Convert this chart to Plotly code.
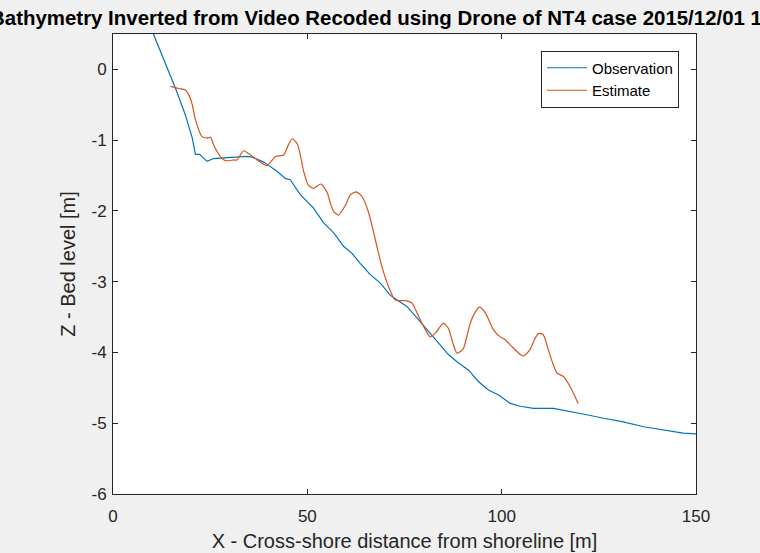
import plotly.graph_objects as go

# Observation (blue) - cross-shore distance [m] and bed level [m]
obs_x = [9.5, 10.4, 14.8, 16.1, 18.6, 20.4, 21.2, 22.3, 24.2, 25.9, 28.5, 34.5, 35.8, 38.8, 40.1,
         42.2, 44.3, 45.6, 48.2, 51.6, 54.2, 56.8, 59.3, 61.5, 63.6, 66.2, 68.8, 71.3, 73.1,
         75.6, 78.2, 82.5, 86.3, 88.5, 91.5, 94.0, 96.6, 99.2, 102.2, 104.8, 108.2, 113.3,
         117.6, 121.9, 126.2, 131.3, 136.5, 141.6, 146.7, 150.0]
obs_z = [0.62, 0.50, -0.08, -0.27, -0.64, -0.97, -1.20, -1.20, -1.30, -1.26, -1.25, -1.23, -1.24,
         -1.31, -1.36, -1.44, -1.54, -1.56, -1.77, -1.96, -2.17, -2.31, -2.50, -2.60, -2.74,
         -2.90, -3.02, -3.19, -3.26, -3.35, -3.51, -3.78, -4.03, -4.13, -4.25, -4.41, -4.53,
         -4.60, -4.72, -4.76, -4.79, -4.79, -4.83, -4.88, -4.93, -4.98, -5.05, -5.10, -5.14,
         -5.15]

# Estimate (orange)
est_x = [14.8, 16.9, 18.6, 19.5, 20.4, 21.2, 22.9, 24.2, 25.1, 25.9, 27.6, 28.9, 31.1, 31.9,
         33.6, 34.9, 37.1, 39.6, 41.8, 43.9, 45.1, 46.1, 47.4, 48.2, 49.0, 50.3, 51.6, 53.5,
         55.1, 55.9, 56.8, 58.0, 59.8, 61.1, 62.6, 64.1, 65.8, 67.9, 69.2, 70.9, 72.6, 75.6,
         76.9, 78.2, 79.9, 81.6, 82.9, 85.0, 86.3, 87.4, 88.5, 89.3, 90.2, 91.9, 93.2, 94.3,
         95.8, 97.9, 99.6, 100.9, 102.7, 104.8, 105.6, 107.3, 108.4, 109.5, 110.7, 112.0,
         113.0, 114.2, 115.9, 117.6, 119.7]
est_z = [-0.24, -0.27, -0.29, -0.36, -0.50, -0.71, -0.95, -0.97, -0.96, -1.07, -1.23, -1.29,
         -1.28, -1.28, -1.15, -1.19, -1.28, -1.36, -1.23, -1.21, -1.07, -0.98, -1.05, -1.21,
         -1.43, -1.64, -1.68, -1.62, -1.74, -1.89, -2.01, -2.06, -1.92, -1.77, -1.73, -1.80,
         -2.03, -2.50, -2.79, -3.07, -3.26, -3.27, -3.30, -3.44, -3.63, -3.78, -3.73, -3.59,
         -3.66, -3.86, -4.01, -3.99, -3.94, -3.59, -3.43, -3.36, -3.44, -3.68, -3.78, -3.82,
         -3.92, -4.03, -4.05, -3.96, -3.82, -3.73, -3.75, -3.96, -4.13, -4.29, -4.34, -4.48,
         -4.72]

x_ticks = [0, 50, 100, 150]
x_tick_labels = ["0", "50", "100", "150"]
y_ticks = [-6, -5, -4, -3, -2, -1, 0]
y_tick_labels = ["-6", "-5", "-4", "-3", "-2", "-1", "0"]

title_text = "Bathymetry Inverted from Video Recoded using Drone of NT4 case 2015/12/01 10:00"

FONT = "Liberation Sans, Arial, sans-serif"
AX = "#262626"

fig = go.Figure()
fig.add_trace(go.Scatter(x=obs_x, y=obs_z, mode="lines", name="Observation",
                         line=dict(color="#0072BD", width=1.2)))
fig.add_trace(go.Scatter(x=est_x, y=est_z, mode="lines", name="Estimate",
                         line=dict(color="#D95319", width=1.2, shape="spline", smoothing=0.6)))

W, H = 760, 553
L, R, T, B = 112.5, 64, 34, 59
pw = W - L - R
ph = H - T - B

axis_common = dict(showgrid=False, zeroline=False, showline=True, mirror="ticks",
                   linecolor=AX, linewidth=1, ticks="inside", ticklen=5, tickcolor=AX,
                   tickfont=dict(family=FONT, size=17, color=AX))

fig.update_xaxes(range=[0, 150], tickvals=x_ticks, ticktext=x_tick_labels,
                 ticklabelstandoff=7,
                 title=dict(text="X - Cross-shore distance from shoreline [m]",
                            font=dict(family=FONT, size=20, color=AX), standoff=8),
                 **axis_common)
fig.update_yaxes(range=[-6, 0.5], tickvals=y_ticks, ticktext=y_tick_labels,
                 ticklabelstandoff=2,
                 title=dict(text="Z - Bed level [m]",
                            font=dict(family=FONT, size=20, color=AX), standoff=10),
                 **axis_common)

fig.add_annotation(text="<b>" + title_text + "</b>", xref="paper", yref="paper",
                   x=(-13 - L) / pw, y=1 + (T - 18) / ph, xanchor="left", yanchor="middle",
                   showarrow=False, font=dict(family=FONT, size=20.45, color="#000000"))

fig.update_layout(
    width=W, height=H,
    margin=dict(l=L, r=R, t=T, b=B, autoexpand=False),
    paper_bgcolor="#f0f0f0", plot_bgcolor="#ffffff",
    font=dict(family=FONT, color=AX),
    showlegend=True,
    legend=dict(x=(679 - L) / pw, y=1 - (50.5 - T) / ph, xanchor="right", yanchor="top",
                bgcolor="#ffffff", bordercolor=AX, borderwidth=1, itemwidth=40,
                font=dict(family=FONT, size=15, color="#000000"),
                tracegroupgap=0),
)

fig.write_html("out.html", config={"displayModeBar": False},
               post_script="document.body.style.margin='0px';")
